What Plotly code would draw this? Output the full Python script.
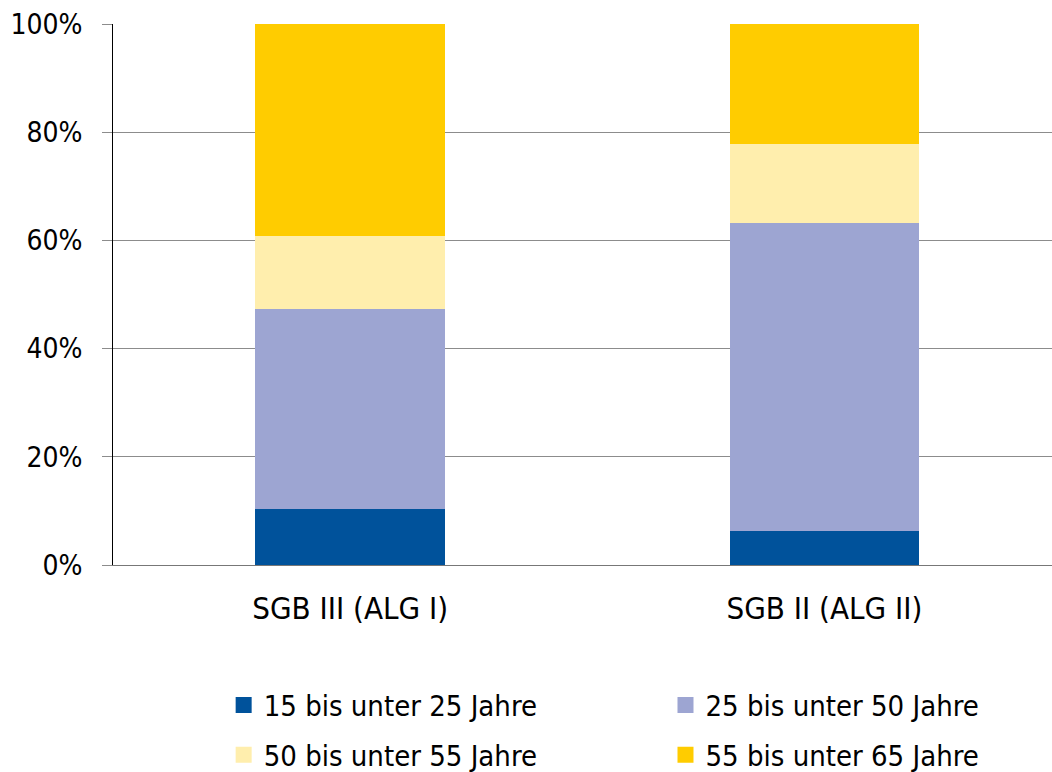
import plotly.graph_objects as go

categories = ["SGB III (ALG I)", "SGB II (ALG II)"]
series_names = ["15 bis unter 25 Jahre", "25 bis unter 50 Jahre",
                "50 bis unter 55 Jahre", "55 bis unter 65 Jahre"]
values_15_25 = [10.4, 6.3]
values_25_50 = [36.9, 57.0]
values_50_55 = [13.5, 14.5]
values_55_65 = [39.2, 22.2]
colors = ["#00529B", "#9DA5D2", "#FFEEAD", "#FFCC00"]
y_ticks = [0, 20, 40, 60, 80, 100]
y_tick_labels = ["0%", "20%", "40%", "60%", "80%", "100%"]

FONT = "DejaVu Sans Condensed, DejaVu Sans, sans-serif"
legend_slots = ["legend", "legend2", "legend", "legend2"]

fig = go.Figure()
for name, vals, col in zip(series_names,
                           [values_15_25, values_25_50, values_50_55, values_55_65],
                           colors):
    fig.add_trace(go.Bar(x=categories, y=vals, name=name, showlegend=False,
                         legendgroup=name,
                         marker=dict(color=col, line=dict(width=0)),
                         width=0.4))

# legend-only entries with larger square swatches
for name, col, lg in zip(series_names, colors, legend_slots):
    fig.add_trace(go.Scatter(x=[None], y=[None], mode="markers", name=name,
                             legend=lg, legendgroup=name, showlegend=True,
                             hoverinfo="skip",
                             marker=dict(symbol="square", size=17, color=col,
                                         line=dict(width=0))))

legend_common = dict(orientation="v", xref="container", yref="container",
                     xanchor="left", yanchor="top", y=0.1195,
                     font=dict(family=FONT, size=29, color="#000000"),
                     traceorder="grouped", tracegroupgap=9, itemwidth=30,
                     itemsizing="trace",
                     bgcolor="rgba(0,0,0,0)")

fig.update_layout(
    barmode="stack",
    width=1052, height=772,
    margin=dict(l=113, r=0, t=24, b=207, autoexpand=False),
    plot_bgcolor="white", paper_bgcolor="white",
    font=dict(family=FONT, size=30, color="#000000"),
    showlegend=True,
    legend=dict(x=0.2126, **legend_common),
    legend2=dict(x=0.6326, **legend_common),
)
fig.update_xaxes(range=[-0.5, 1.48], showgrid=False, showline=True,
                 linecolor="#777777", linewidth=1, ticks="",
                 tickfont=dict(size=31),
                 ticklabelstandoff=16, fixedrange=True, automargin=False)
fig.update_yaxes(range=[0, 100], tickvals=y_ticks, ticktext=y_tick_labels,
                 showgrid=True, gridcolor="#8C8C8C", gridwidth=1,
                 zeroline=False, showline=True, linecolor="#000000", linewidth=1,
                 ticks="outside", ticklen=10, tickcolor="#8C8C8C",
                 tickfont=dict(size=28),
                 ticklabelstandoff=14, fixedrange=True, automargin=False)

fig.write_html("out.html", config={"displayModeBar": False},
               post_script="document.body.style.margin='0';document.body.style.overflow='hidden';")
